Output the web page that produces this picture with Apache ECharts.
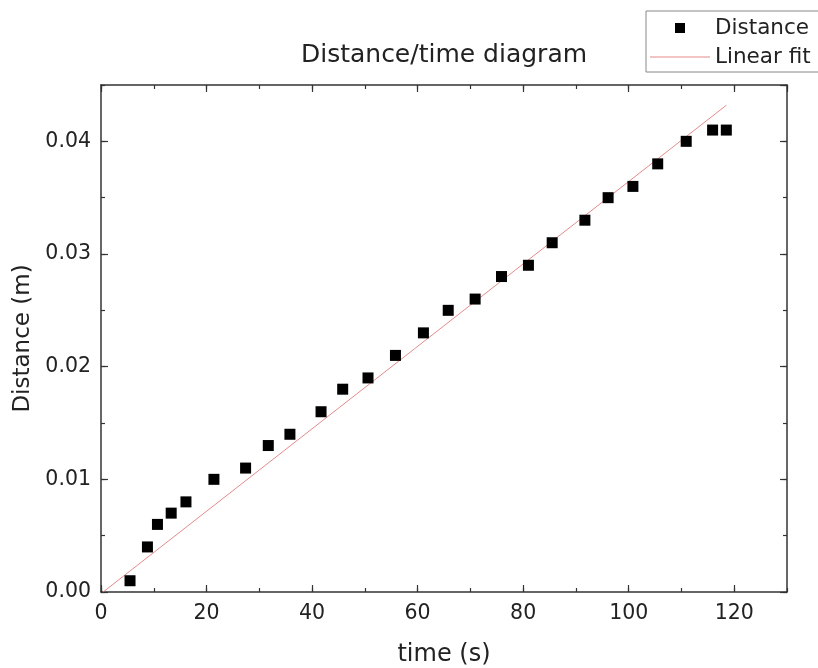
<!DOCTYPE html>
<html>
<head>
<meta charset="utf-8">
<script src="https://cdn.jsdelivr.net/npm/echarts@6/dist/echarts.min.js"></script>
<style>
  html, body { margin: 0; padding: 0; background: #fff; }
  #chart { width: 818px; height: 668px; }
</style>
</head>
<body>
<div id="chart"></div>
<script>
// ---- data ----
const timeS = [5.5, 8.8, 10.7, 13.3, 16.1, 21.4, 27.4, 31.7, 35.8, 41.7, 45.8, 50.6, 55.8,
               61.1, 65.8, 70.9, 75.9, 81.0, 85.5, 91.7, 96.1, 100.8, 105.5, 110.9, 115.9, 118.5];
const distanceM = [0.001, 0.004, 0.006, 0.007, 0.008, 0.010, 0.011, 0.013, 0.014, 0.016, 0.018, 0.019, 0.021,
                   0.023, 0.025, 0.026, 0.028, 0.029, 0.031, 0.033, 0.035, 0.036, 0.038, 0.040, 0.041, 0.041];
const fitX = [0.4, 118.5];
const fitY = [0.0, 0.0432];
const xTicks = [0, 20, 40, 60, 80, 100, 120];
const yTicks = [0.00, 0.01, 0.02, 0.03, 0.04];

const FONT = 'DejaVu Sans';
const TXT = '#222';
const AX = '#333';
const FIT_COLOR = '#e58a8a';

const chart = echarts.init(document.getElementById('chart'), null, { renderer: 'canvas' });

function xAx(pos, interval, len, labels, line) {
  return {
    type: 'value', position: pos, min: 0, max: 130, interval: interval,
    axisLine: { show: line, onZero: false, lineStyle: { color: AX, width: 1.5 } },
    axisTick: { show: true, inside: true, length: len, lineStyle: { color: AX, width: 1.2 } },
    axisLabel: labels ? {
      show: true, showMaxLabel: false, color: TXT, fontFamily: FONT, fontSize: 20.5, margin: 11,
      formatter: v => (xTicks.indexOf(v) >= 0 ? String(v) : '')
    } : { show: false },
    splitLine: { show: false },
    name: labels ? 'time (s)' : '',
    nameLocation: 'middle', nameGap: 51,
    nameTextStyle: { color: TXT, fontFamily: FONT, fontSize: 24 }
  };
}
function yAx(pos, interval, len, labels, line) {
  return {
    type: 'value', position: pos, min: 0, max: 0.045, interval: interval,
    axisLine: { show: line, onZero: false, lineStyle: { color: AX, width: 1.5 } },
    axisTick: { show: true, inside: true, length: len, lineStyle: { color: AX, width: 1.2 } },
    axisLabel: labels ? {
      show: true, showMaxLabel: false, color: TXT, fontFamily: FONT, fontSize: 20.5, margin: 10,
      formatter: v => {
        for (const t of yTicks) { if (Math.abs(t - v) < 1e-9) return t.toFixed(2); }
        return '';
      }
    } : { show: false },
    splitLine: { show: false },
    name: labels ? 'Distance (m)' : '',
    nameLocation: 'middle', nameGap: 64, nameRotate: 90,
    nameTextStyle: { color: TXT, fontFamily: FONT, fontSize: 23 }
  };
}

const option = {
  backgroundColor: '#fff',
  animation: false,
  title: {
    text: 'Distance/time diagram',
    left: 444, top: 43, textAlign: 'center', padding: 0,
    textStyle: { color: TXT, fontFamily: FONT, fontSize: 25, fontWeight: 'normal' }
  },
  legend: {
    orient: 'vertical', left: 646, top: 11,
    padding: [6, 24, 4, 4],
    itemGap: 7, itemWidth: 60, itemHeight: 10,
    borderColor: '#888', borderWidth: 1,
    textStyle: { color: TXT, fontFamily: FONT, fontSize: 21.5 },
    data: [
      { name: 'Distance', icon: 'path://M0,0L10,0L10,10L0,10Z' },
      { name: 'Linear fit', icon: 'path://M0,0L60,0L60,1L0,1Z' }
    ]
  },
  grid: { left: 101, right: 31, top: 85, bottom: 76, containLabel: false, outerBoundsMode: 'none' },
  xAxis: [
    xAx('bottom', 20, 7, true, true),
    xAx('bottom', 10, 4, false, false),
    xAx('top', 20, 7, false, true),
    xAx('top', 10, 4, false, false)
  ],
  yAxis: [
    yAx('left', 0.01, 7, true, true),
    yAx('left', 0.005, 4, false, false),
    yAx('right', 0.01, 7, false, true),
    yAx('right', 0.005, 4, false, false)
  ],
  series: [
    {
      name: 'Linear fit', type: 'line', xAxisIndex: 0, yAxisIndex: 0,
      data: fitX.map((x, i) => [x, fitY[i]]),
      symbol: 'none', showSymbol: false,
      lineStyle: { color: FIT_COLOR, width: 1 },
      itemStyle: { color: FIT_COLOR },
      z: 2
    },
    {
      name: 'Distance', type: 'scatter', xAxisIndex: 0, yAxisIndex: 0,
      data: timeS.map((t, i) => [t, distanceM[i]]),
      symbol: 'rect', symbolSize: 11,
      itemStyle: { color: '#000', opacity: 1 },
      z: 3
    }
  ]
};
chart.setOption(option);
</script>
</body>
</html>
